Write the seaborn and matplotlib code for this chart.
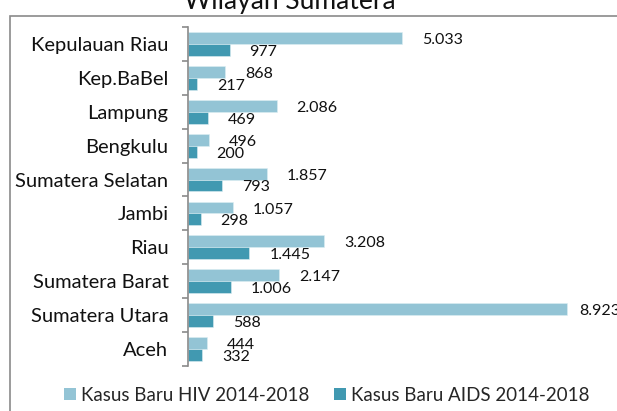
import matplotlib
matplotlib.use("Agg")
import matplotlib.pyplot as plt
from matplotlib.patches import Rectangle, Patch
from matplotlib.ticker import FixedLocator
import pandas as pd
import seaborn as sns

provinsi = ["Kepulauan Riau", "Kep.BaBel", "Lampung", "Bengkulu", "Sumatera Selatan",
            "Jambi", "Riau", "Sumatera Barat", "Sumatera Utara", "Aceh"]
hiv = [5033, 868, 2086, 496, 1857, 1057, 3208, 2147, 8923, 444]
aids = [977, 217, 469, 200, 793, 298, 1445, 1006, 588, 332]
series = ["Kasus Baru HIV 2014-2018", "Kasus Baru AIDS 2014-2018"]
colors = ["#93C4D5", "#4199B1"]

df = pd.DataFrame({
    "Provinsi": provinsi * 2,
    "Kasus": hiv + aids,
    "Jenis": [series[0]] * len(provinsi) + [series[1]] * len(provinsi),
})

sns.set_theme(style="white")
plt.rcParams["font.family"] = ["Lato", "DejaVu Sans"]

W, H = 617, 411
fig = plt.figure(figsize=(W / 100, H / 100), dpi=100)
ax = fig.add_axes([188 / W, (H - 366) / H, 425 / W, 339 / H])

sns.barplot(data=df, y="Provinsi", x="Kasus", hue="Jenis", order=provinsi,
            hue_order=series, palette=colors, orient="h", width=0.7,
            saturation=1, legend=False, ax=ax, edgecolor="#DDEEF3", linewidth=0.4)

ax.set_xlim(0, 10000)
ax.set_ylim(len(provinsi) - 0.5, -0.5)
ax.set_xlabel("")
ax.set_ylabel("")
ax.set_xticks([])

for side in ["top", "right", "bottom"]:
    ax.spines[side].set_visible(False)
ax.spines["left"].set_color("#8A8A8A")
ax.spines["left"].set_linewidth(1.2)

# category labels without marks; boundary marks as minor ticks
ax.tick_params(axis="y", which="major", length=0, pad=14, labelsize=14.5, labelcolor="#111111")
ax.yaxis.set_minor_locator(FixedLocator([i - 0.5 for i in range(len(provinsi) + 1)]))
ax.tick_params(axis="y", which="minor", length=4, width=1.2, color="#8A8A8A", left=True)


def fmt(v):
    return f"{v:,}".replace(",", ".")


renderer = fig.canvas.get_renderer()
for container in ax.containers:
    for bar in container:
        w = bar.get_width()
        yc = bar.get_y() + bar.get_height() / 2
        ann = ax.annotate(fmt(int(round(w))), xy=(w, yc), xytext=(20, -2),
                          textcoords="offset pixels", ha="left", va="center",
                          fontsize=11.5, color="#111111", annotation_clip=False)
        # pull a label back toward its bar when it would run far past the edge
        right = ann.get_window_extent(renderer).x1
        if right > W + 3:
            ann.xyann = (max(9, 20 - (right - (W + 3))), -2)

# chart area frame
fig.add_artist(Rectangle((10 / W, -0.1), 1.2, 1.1 - 16 / H, transform=fig.transFigure,
                         fill=False, edgecolor="#8A8A8A", linewidth=1.2))

fig.text(290 / W, 1 - 8.5 / H, "Wilayah Sumatera", ha="center", va="baseline",
         fontsize=19, color="#111111")

handles = [Patch(facecolor=c, edgecolor="none") for c in colors]
fig.legend(handles, series, loc="center", bbox_to_anchor=(327 / W, 1 - 395 / H),
           ncol=2, frameon=False, fontsize=13.5, handlelength=0.64, handleheight=0.64,
           handletextpad=0.27, columnspacing=1.33, borderaxespad=0)

fig.savefig("out.png", dpi=100)
